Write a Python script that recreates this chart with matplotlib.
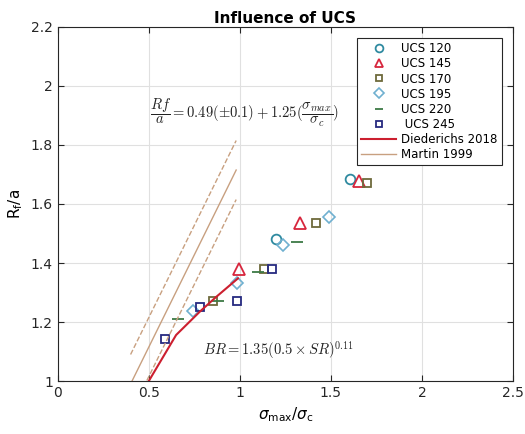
import matplotlib
matplotlib.use('Agg')
import matplotlib.pyplot as plt

# data
ucs120_x = [1.605, 1.199]
ucs120_y = [1.683, 1.483]
ucs145_x = [1.656, 1.33, 0.997]
ucs145_y = [1.678, 1.536, 1.381]
ucs170_x = [1.70, 1.418, 1.131, 0.851]
ucs170_y = [1.67, 1.536, 1.378, 1.271]
ucs195_x = [1.49, 1.235, 0.986, 0.741]
ucs195_y = [1.556, 1.46, 1.333, 1.238]
ucs220_x = [1.314, 1.098, 0.878, 0.659]
ucs220_y = [1.47, 1.368, 1.271, 1.209]
ucs245_x = [1.177, 0.983, 0.783, 0.589]
ucs245_y = [1.379, 1.271, 1.251, 1.144]

died_x = [0.5, 0.65, 0.78, 0.87, 0.99]
died_y = [1.0, 1.156, 1.235, 1.285, 1.348]

martin_x = [0.4, 0.98]
martin_y = [0.99, 1.715]
martin_hi = [1.09, 1.815]
martin_lo = [0.89, 1.615]

fig = plt.figure(figsize=(5.25, 4.34), dpi=100)
ax = fig.add_axes([0.110, 0.122, 0.867, 0.816])

ax.plot(ucs120_x, ucs120_y, 'o', mfc='none', mec='#2f8aa0', mew=1.3, ms=7, label='UCS 120')
ax.plot(ucs145_x, ucs145_y, '^', mfc='none', mec='#d7263d', mew=1.3, ms=8, label='UCS 145')
ax.plot(ucs170_x, ucs170_y, 's', mfc='none', mec='#6e6a3c', mew=1.3, ms=6, label='UCS 170')
ax.plot(ucs195_x, ucs195_y, 'D', mfc='none', mec='#6fb0d0', mew=1.2, ms=6.5, label='UCS 195')
ax.plot(ucs220_x, ucs220_y, '_', color='#3d7a45', mew=1.3, ms=8, label='UCS 220')
ax.plot(ucs245_x, ucs245_y, 's', mfc='none', mec='#262a80', mew=1.3, ms=6, label=' UCS 245')
ax.plot(died_x, died_y, '-', color='#cc1f2f', lw=1.5, label='Diederichs 2018')
ax.plot(martin_x, martin_y, '-', color='#c8a080', lw=1, label='Martin 1999')
ax.plot(martin_x, martin_hi, '--', color='#c8a080', lw=1)
ax.plot(martin_x, martin_lo, '--', color='#c8a080', lw=1)

ax.text(1.025, 1.907, r'$\dfrac{Rf}{a} = 0.49(\pm0.1) + 1.25(\dfrac{\sigma_{max}}{\sigma_c})$',
        ha='center', va='center', fontsize=10.5, color='#222222', math_fontfamily='cm')
ax.text(1.21, 1.105, r'$BR = 1.35(0.5\times SR)^{0.11}$',
        ha='center', va='center', fontsize=10.5, color='#222222', math_fontfamily='cm')

ax.set_xlim(0, 2.5)
ax.set_ylim(1, 2.2)
ax.set_xticks([0, 0.5, 1, 1.5, 2, 2.5])
ax.set_xticklabels(['0', '0.5', '1', '1.5', '2', '2.5'])
ax.set_yticks([1, 1.2, 1.4, 1.6, 1.8, 2, 2.2])
ax.set_yticklabels(['1', '1.2', '1.4', '1.6', '1.8', '2', '2.2'])
ax.grid(True, color='#e0e0e0', lw=0.8)
ax.set_axisbelow(True)
ax.tick_params(direction='in', top=True, right=True, labelsize=10, colors='#262626', length=4)
for s in ax.spines.values():
    s.set_color('#262626')
    s.set_linewidth(0.8)

ax.set_xlabel(r'$\sigma_{\mathrm{max}}/\sigma_{\mathrm{c}}$', fontsize=11)
ax.set_ylabel(r'R$_{\mathrm{f}}$/a', fontsize=11)
ax.set_title('Influence of UCS', fontsize=11, fontweight='bold', pad=3)

leg = ax.legend(loc='upper right', fontsize=8.5, frameon=True, fancybox=False,
                edgecolor='#262626', framealpha=1, handlelength=3.0, markerscale=0.8,
                labelspacing=0.18, borderpad=0.35, handletextpad=0.4,
                bbox_to_anchor=(0.988, 0.985))
leg.get_frame().set_linewidth(0.8)

plt.savefig('out.png', dpi=100)
